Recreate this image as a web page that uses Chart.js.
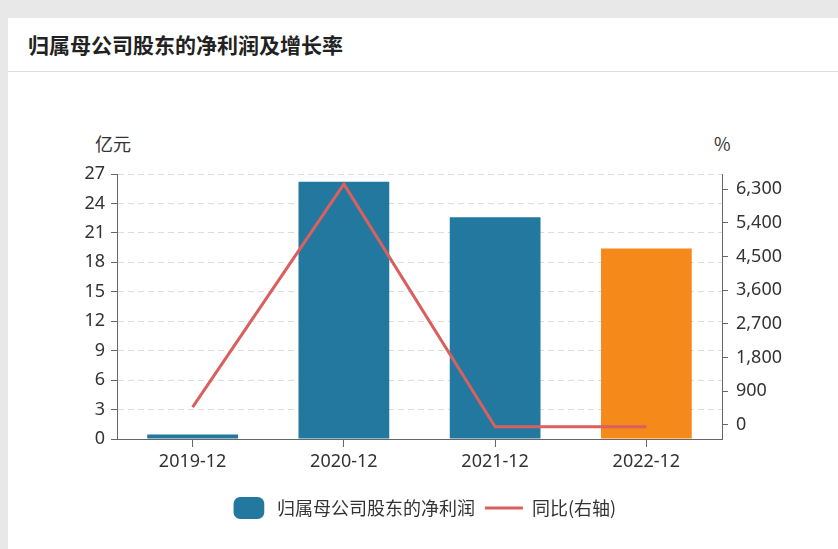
<!DOCTYPE html>
<html><head><meta charset="utf-8">
<script src="https://cdn.jsdelivr.net/npm/chart.js@4"></script>
<style>
body{margin:0;background:#e8e8e8;font-family:"Noto Sans CJK SC","Noto Sans",sans-serif;width:838px;height:549px;overflow:hidden;position:relative}
#card{position:absolute;left:8px;top:18px;width:830px;height:531px;background:#fff}
#title{position:absolute;left:20px;top:11px;font-size:21px;font-weight:bold;color:#222}
#sep{position:absolute;left:0;top:53px;width:830px;height:1px;background:#ddd}
#box{position:absolute;left:0;top:54px;width:830px;height:477px}
.unit{position:absolute;font-size:18px;color:#333}
</style></head><body>
<div id="card">
<div id="title">归属母公司股东的净利润及增长率</div>
<div id="sep"></div>
<div class="unit" style="left:87px;top:112px">亿元</div>
<div class="unit" style="left:706px;top:112px">%</div>
<div id="box"><canvas id="c"></canvas></div>
</div>
<script>
var categories = ['2019-12', '2020-12', '2021-12', '2022-12'];
var profit = [0.45, 26.2, 22.6, 19.4];
var growth = [466, 6440, -55, -55];
var barColors = ['#22789f', '#22789f', '#22789f', '#f5891a'];

var ctx = document.getElementById('c');
var tickFont = { size: 18, family: '"Noto Sans","Noto Sans CJK SC",sans-serif' };
new Chart(ctx, {
    data: {
        labels: categories,
        datasets: [
            {
                type: 'line',
                label: '同比(右轴)',
                data: growth,
                yAxisID: 'y1',
                borderColor: '#d9605f',
                backgroundColor: '#d9605f',
                borderWidth: 3,
                pointRadius: 0,
                pointStyle: 'line',
                tension: 0
            },
            {
                type: 'bar',
                label: '归属母公司股东的净利润',
                data: profit,
                yAxisID: 'y',
                backgroundColor: barColors,
                categoryPercentage: 0.6,
                barPercentage: 1,
                pointStyle: 'rectRounded'
            }]
    },
    options: {
        responsive: true,
        maintainAspectRatio: false,
        animation: false,
        layout: { padding: { top: 102, bottom: 22, left: 0, right: 0 } },
        plugins: {
            tooltip: { enabled: false },
            legend: {
                position: 'bottom',
                reverse: true,
                labels: {
                    usePointStyle: true,
                    pointStyleWidth: 38,
                    boxHeight: 18,
                    color: '#333',
                    font: { size: 18, family: '"Noto Sans CJK SC",sans-serif' },
                    padding: 10
                }
            }
        },
        scales: {
            x: {
                grid: { display: true, offset: false, drawOnChartArea: false, tickLength: 8, color: '#666' },
                border: { color: '#666' },
                ticks: { color: '#333', font: tickFont, padding: 4 },
                afterFit: function (s) { s.height = 50; }
            },
            y: {
                position: 'left',
                min: 0, max: 27,
                ticks: { stepSize: 3, color: '#333', font: tickFont, padding: 6 },
                grid: { color: '#dcdcdc', tickColor: '#666', tickLength: 6, lineWidth: 1 },
                border: { color: '#666', dash: [6, 4] },
                afterFit: function (s) { s.width = 109; }
            },
            y1: {
                position: 'right',
                min: -385, max: 6710,
                afterBuildTicks: function (s) {
                    var t = [];
                    for (var v = 0; v <= 6300; v += 900) t.push({ value: v });
                    s.ticks = t;
                },
                ticks: {
                    color: '#333', font: tickFont, padding: 8,
                    callback: function (v) { return v.toLocaleString('en-US'); }
                },
                grid: { drawOnChartArea: false, tickColor: '#666', tickLength: 6 },
                border: { color: '#666' },
                afterFit: function (s) { s.width = 116; }
            }
        }
    }
});
</script>
</body></html>
